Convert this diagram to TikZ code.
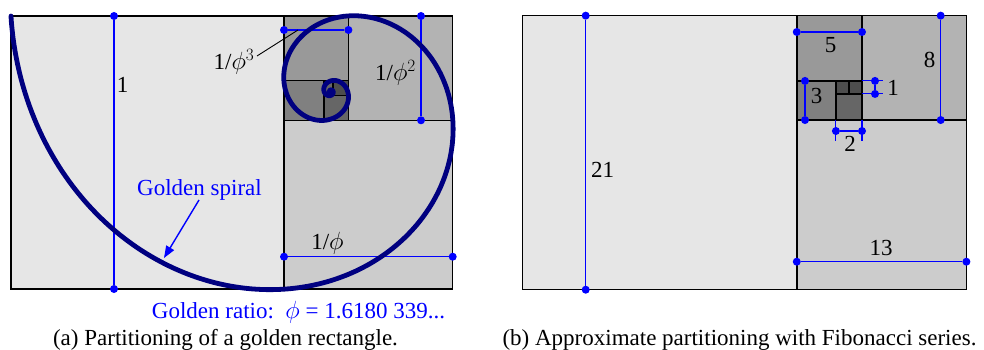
\documentclass[tikz,border=0pt]{standalone}
\usepackage{fontspec}
\setmainfont{Liberation Serif}
\usetikzlibrary{arrows.meta}
\definecolor{gA}{HTML}{E6E6E6}
\definecolor{gB}{HTML}{CCCCCC}
\definecolor{gC}{HTML}{B3B3B3}
\definecolor{gD}{HTML}{999999}
\definecolor{gE}{HTML}{808080}
\definecolor{gF}{HTML}{666666}
\definecolor{gG}{HTML}{4D4D4D}
\definecolor{spiralblue}{HTML}{000080}
\begin{document}
\begin{tikzpicture}[x=1pt,y=-1pt,
  sq/.style={draw=black,line width=1.5pt},
  dim/.style={blue,line width=1.2pt},
  ext/.style={blue,line width=1.1pt},
  dot/.style={circle,fill=blue,inner sep=0pt,minimum size=8pt},
  lbl/.style={font=\fontsize{23}{27}\selectfont,inner sep=0pt},
  bluelbl/.style={lbl,text=blue},
  spiral/.style={spiralblue,line width=4.8pt,line cap=round,line join=round}]
\useasboundingbox (0,0) rectangle (984,350);

% ---------- panel (a) ----------
\filldraw[sq,fill=gA] (11,16) rectangle (284,289);
\filldraw[sq,fill=gB] (284,120.3) rectangle (452.7,289);
\filldraw[sq,fill=gC] (348.4,16) rectangle (452.7,120.3);
\filldraw[sq,fill=gD] (284,16) rectangle (348.4,80.4);
\filldraw[sq,fill=gE] (284,80.4) rectangle (323.9,120.3);
\filldraw[sq,fill=gF] (323.9,95.7) rectangle (348.4,120.3);
\filldraw[sq,fill=gG] (333.2,80.4) rectangle (348.4,95.7);
\filldraw[sq,fill=gF] (323.9,80.4) rectangle (333.2,95.7);

% dimensions (a)
\node[dot] (a1t) at (114,16) {};
\node[dot] (a1b) at (114,289) {};
\draw[dim] (a1t) -- (a1b);
\node[lbl] (l1) at (122.7,85) {1};

\node[dot] (a3l) at (284,30) {};
\node[dot] (a3r) at (348.4,30) {};
\draw[dim] (a3l) -- (a3r);
\node[lbl,anchor=base] (l3) at (234,69.5) {1/$\phi^3$};
\coordinate (l3s) at (257,56);
\coordinate (l3e) at (298,30);
\draw[black,line width=0.9pt] (l3s) -- (l3e);

\node[dot] (a2t) at (421,16) {};
\node[dot] (a2b) at (421,120.3) {};
\draw[dim] (a2t) -- (a2b);
\node[lbl,anchor=base] (l2) at (395.5,81) {1/$\phi^2$};

\node[dot] (a0l) at (284,256.7) {};
\node[dot] (a0r) at (452.7,256.7) {};
\draw[dim] (a0l) -- (a0r);
\node[lbl,anchor=base] (l0) at (327.5,249) {1/$\phi$};

% spiral
\draw[spiral] plot[domain=166.72:1650,samples=1200,variable=\t]
  ({330.6+328.4*exp(-0.005346*(\t-166.72))*cos(\t)},
   {91.5-328.4*exp(-0.005346*(\t-166.72))*sin(\t)});
\fill[spiralblue] (330.6,91.5) circle (3.6pt);

\node[bluelbl,anchor=base] (gs) at (199.5,195.5) {Golden spiral};
\coordinate (gsS) at (199,200);
\coordinate (gsE) at (164,258);
\draw[blue,line width=1.4pt,-{Triangle[length=12pt,width=9pt]}] (gsS) -- (gsE);

\node[bluelbl,anchor=base] (gr) at (298.5,318) {Golden ratio:\ \ $\phi$ = 1.6180 339...};
\node[lbl,anchor=base] (capa) at (225.5,345) {(a) Partitioning of a golden rectangle.};

% ---------- panel (b) ----------
\filldraw[sq,fill=gA] (522.7,15.65) rectangle (796.75,289.7);
\filldraw[sq,fill=gB] (796.75,120.05) rectangle (966.4,289.7);
\filldraw[sq,fill=gC] (862,15.65) rectangle (966.4,120.05);
\filldraw[sq,fill=gD] (796.75,15.65) rectangle (862,80.9);
\filldraw[sq,fill=gE] (796.75,80.9) rectangle (835.9,120.05);
\filldraw[sq,fill=gF] (835.9,93.95) rectangle (862,120.05);
\filldraw[sq,fill=gG] (835.9,80.9) rectangle (848.95,93.95);
\filldraw[sq,fill=gG] (848.95,80.9) rectangle (862,93.95);

\node[dot] (b21t) at (585.7,15.65) {};
\node[dot] (b21b) at (585.7,289.7) {};
\draw[dim] (b21t) -- (b21b);
\node[lbl] (l21) at (602.5,170) {21};

\node[dot] (b13l) at (796.75,261.7) {};
\node[dot] (b13r) at (966.4,261.7) {};
\draw[dim] (b13l) -- (b13r);
\node[lbl] (l13) at (881,247.5) {13};

\node[dot] (b8t) at (940.7,15.65) {};
\node[dot] (b8b) at (940.7,120.05) {};
\draw[dim] (b8t) -- (b8b);
\node[lbl] (l8) at (929.7,59.7) {8};

\node[dot] (b5l) at (796.75,32) {};
\node[dot] (b5r) at (862,32) {};
\draw[dim] (b5l) -- (b5r);
\node[lbl] (l5) at (830.5,45.5) {5};

\node[dot] (b3t) at (805,80.9) {};
\node[dot] (b3b) at (805,120.05) {};
\draw[dim] (b3t) -- (b3b);
\node[lbl] (lb3) at (816.7,95.5) {3};

\coordinate (b2e1t) at (835.9,120.05);
\coordinate (b2e1b) at (835.9,141.3);
\coordinate (b2e2t) at (862,120.05);
\coordinate (b2e2b) at (862,141.3);
\draw[ext] (b2e1t) -- (b2e1b);
\draw[ext] (b2e2t) -- (b2e2b);
\node[dot] (b2l) at (835.9,131) {};
\node[dot] (b2r) at (862,131) {};
\draw[dim] (b2l) -- (b2r);
\node[lbl] (lb2) at (850,144) {2};

\coordinate (b1e1l) at (862,80.9);
\coordinate (b1e1r) at (883.3,80.9);
\coordinate (b1e2l) at (862,93.95);
\coordinate (b1e2r) at (883.3,93.95);
\draw[ext] (b1e1l) -- (b1e1r);
\draw[ext] (b1e2l) -- (b1e2r);
\node[dot] (b1t) at (875,80.9) {};
\node[dot] (b1b) at (875,93.95) {};
\draw[dim] (b1t) -- (b1b);
\node[lbl] (lb1) at (893,88) {1};

\node[lbl,anchor=base] (capb) at (739.5,345) {(b) Approximate partitioning with Fibonacci series.};
\end{tikzpicture}
\end{document}
